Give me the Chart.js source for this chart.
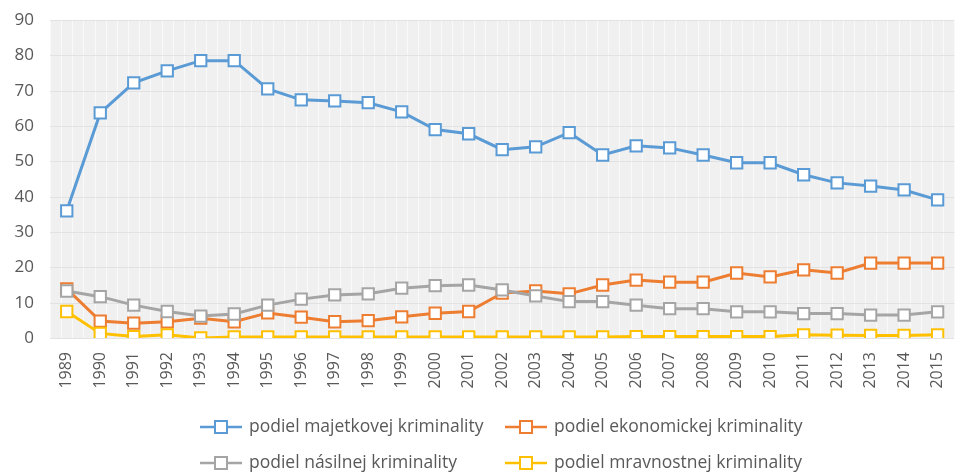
<!DOCTYPE html>
<html>
<head>
<meta charset="utf-8">
<script src="https://cdn.jsdelivr.net/npm/chart.js@4.4.1/dist/chart.umd.min.js"></script>
<style>
  html, body { margin: 0; padding: 0; background: #ffffff; }
  #wrap { width: 971px; height: 474px; }
</style>
</head>
<body>
<div id="wrap"><canvas id="c" width="971" height="474"></canvas></div>
<script>
const years = ['1989','1990','1991','1992','1993','1994','1995','1996','1997','1998','1999','2000','2001','2002','2003','2004','2005','2006','2007','2008','2009','2010','2011','2012','2013','2014','2015'];
const majetkova  = [36.0, 63.7, 72.2, 75.6, 78.5, 78.5, 70.5, 67.4, 67.1, 66.6, 64.0, 59.0, 57.8, 53.3, 54.1, 58.1, 51.8, 54.4, 53.8, 51.8, 49.6, 49.6, 46.2, 43.9, 43.0, 41.9, 39.1];
const ekonomicka = [13.9, 4.8, 4.2, 4.6, 5.6, 4.6, 7.1, 5.9, 4.6, 4.9, 6.0, 7.0, 7.5, 12.7, 13.3, 12.5, 15.0, 16.4, 15.8, 15.8, 18.4, 17.3, 19.3, 18.4, 21.2, 21.2, 21.2];
const nasilna    = [13.3, 11.7, 9.3, 7.5, 6.2, 6.8, 9.3, 11.0, 12.2, 12.5, 14.1, 14.8, 15.0, 13.6, 11.9, 10.3, 10.3, 9.3, 8.3, 8.3, 7.4, 7.4, 6.9, 6.9, 6.5, 6.5, 7.4];
const mravnostna = [7.5, 1.3, 0.4, 0.9, 0.0, 0.3, 0.3, 0.3, 0.3, 0.3, 0.3, 0.3, 0.3, 0.3, 0.3, 0.3, 0.3, 0.4, 0.4, 0.4, 0.4, 0.4, 0.9, 0.8, 0.7, 0.7, 0.9];
const seriesNames = ['podiel majetkovej kriminality', 'podiel ekonomickej kriminality', 'podiel násilnej kriminality', 'podiel mravnostnej kriminality'];
const yTicks = [0, 10, 20, 30, 40, 50, 60, 70, 80, 90];

const colors = ['#5B9BD5', '#ED7D31', '#A5A5A5', '#FFC000'];
const FONT = '"Open Sans", Lato, sans-serif';
const TXT = '#595959';

function ds(label, data, color, order) {
  return {
    label, data, order,
    borderColor: color,
    backgroundColor: '#ffffff',
    borderWidth: 3,
    pointStyle: 'rect',
    pointRadius: 8,
    pointHoverRadius: 8,
    pointBorderWidth: 2,
    pointBackgroundColor: '#ffffff',
    pointBorderColor: color,
    tension: 0
  };
}

const bgPlugin = {
  id: 'plotBg',
  beforeDraw(chart) {
    const {ctx, chartArea: a, scales} = chart;
    ctx.save();
    ctx.fillStyle = '#F0F0F0';
    ctx.fillRect(a.left, a.top, a.right - a.left, a.bottom - a.top);
    ctx.strokeStyle = '#FAFAFA';
    ctx.lineWidth = 1;
    const xs = scales.x;
    for (let i = -0.5; i <= years.length - 0.5 + 1e-6; i += 1/3) {
      const px = Math.round(xs.getPixelForValue(i)) + 0.5;
      ctx.beginPath(); ctx.moveTo(px, a.top); ctx.lineTo(px, a.bottom); ctx.stroke();
    }
    ctx.strokeStyle = '#E2E2E2';
    const ys = scales.y;
    yTicks.forEach(v => {
      const py = Math.round(ys.getPixelForValue(v)) + 0.5;
      ctx.beginPath(); ctx.moveTo(a.left, py); ctx.lineTo(a.right, py); ctx.stroke();
    });
    ctx.restore();
  }
};

const legendPlugin = {
  id: 'customLegend',
  afterDraw(chart) {
    const {ctx, chartArea: a} = chart;
    const cols = [200, 505];
    const rows = [a.bottom + 89, a.bottom + 125];
    ctx.save();
    ctx.font = '17.5px ' + FONT;
    ctx.textBaseline = 'middle';
    chart.data.datasets.forEach((d, i) => {
      const x = cols[i % 2];
      const y = rows[Math.floor(i / 2)];
      ctx.strokeStyle = d.borderColor;
      ctx.lineWidth = 2.5;
      ctx.beginPath(); ctx.moveTo(x, y); ctx.lineTo(x + 42, y); ctx.stroke();
      ctx.fillStyle = '#ffffff';
      ctx.lineWidth = 2;
      ctx.fillRect(x + 15, y - 6, 12, 12);
      ctx.strokeRect(x + 15, y - 6, 12, 12);
      ctx.fillStyle = TXT;
      ctx.fillText(d.label, x + 49, y);
    });
    ctx.restore();
  }
};

new Chart(document.getElementById('c'), {
  type: 'line',
  data: {
    labels: years,
    datasets: [
      ds(seriesNames[0], majetkova, colors[0], 3),
      ds(seriesNames[1], ekonomicka, colors[1], 2),
      ds(seriesNames[2], nasilna, colors[2], 1),
      ds(seriesNames[3], mravnostna, colors[3], 0)
    ]
  },
  options: {
    responsive: false,
    animation: false,
    devicePixelRatio: 1,
    layout: { padding: { top: 20, left: 0, right: -8, bottom: 78 } },
    plugins: {
      legend: { display: false },
      tooltip: { enabled: false }
    },
    scales: {
      x: {
        type: 'category',
        offset: true,
        grid: { display: false, drawTicks: false },
        border: { display: false },
        ticks: {
          color: TXT,
          font: { family: FONT, size: 16 },
          minRotation: 90, maxRotation: 90,
          padding: 14,
          autoSkip: false
        },
        afterFit(s) { s.height = 58; }
      },
      y: {
        min: 0, max: 90,
        afterBuildTicks(s) { s.ticks = yTicks.map(v => ({ value: v })); },
        grid: { display: false, drawTicks: false },
        border: { display: false },
        ticks: {
          color: TXT,
          font: { family: FONT, size: 17 },
          padding: 16
        },
        afterFit(s) { s.width = 50; s.paddingTop = 8; s.paddingBottom = 8; }
      }
    }
  },
  plugins: [bgPlugin, legendPlugin]
});
</script>
</body>
</html>
